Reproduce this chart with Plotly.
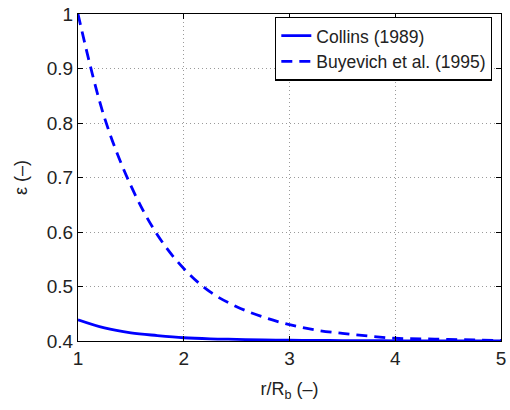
import plotly.graph_objects as go

x_vals = [1.0, 1.25, 1.5, 1.75, 2.0, 2.25, 2.5, 2.75, 3.0, 3.25, 3.5, 3.75, 4.0, 4.25, 4.5, 4.75, 5.0]
collins = [0.439, 0.424, 0.415, 0.410, 0.406, 0.404, 0.403, 0.402, 0.4015, 0.401, 0.4008, 0.4006, 0.4004, 0.4003, 0.4002, 0.4001, 0.4000]
buyevich = [1.0, 0.81, 0.685, 0.595, 0.533, 0.490, 0.463, 0.444, 0.430, 0.420, 0.414, 0.409, 0.405, 0.404, 0.403, 0.402, 0.401]

x_ticks = [1, 2, 3, 4, 5]
y_ticks = [0.4, 0.5, 0.6, 0.7, 0.8, 0.9, 1.0]
y_tick_text = ["0.4", "0.5", "0.6", "0.7", "0.8", "0.9", "1"]

fig = go.Figure()
fig.add_trace(go.Scatter(x=x_vals, y=collins, mode="lines", name="Collins (1989)",
                         line=dict(color="#0000ff", width=2.8, shape="spline")))
fig.add_trace(go.Scatter(x=x_vals, y=buyevich, mode="lines", name="Buyevich et al. (1995)",
                         line=dict(color="#0000ff", width=2.8, dash="11px,7px", shape="spline")))

font = "Liberation Sans, Arial, sans-serif"
axis_common = dict(showline=True, linecolor="black", linewidth=1.2, mirror="ticks",
                   ticks="inside", ticklen=5, tickcolor="black",
                   showgrid=True, gridcolor="#9a9a9a", griddash="1px,3px", gridwidth=1,
                   zeroline=False, ticklabeloverflow="allow",
                   tickfont=dict(family=font, size=19, color="#222222"))

fig.update_layout(
    width=510, height=410,
    margin=dict(l=78, r=4, t=11, b=69),
    paper_bgcolor="white", plot_bgcolor="white",
    font=dict(family=font, size=18, color="#222222"),
    xaxis=dict(range=[1, 5], tickvals=x_ticks,
               title=dict(text="r/R<sub>b</sub> (–)", font=dict(family=font, size=18), standoff=14),
               **axis_common),
    yaxis=dict(range=[0.4, 1.0], tickvals=y_ticks, ticktext=y_tick_text,
               title=dict(text="ε (–)", font=dict(family=font, size=18), standoff=14),
               **axis_common),
    legend=dict(x=0.979, y=0.992, xanchor="right", yanchor="top",
                bgcolor="white", bordercolor="black", borderwidth=1.2,
                font=dict(family=font, size=17.5, color="#222222"), tracegroupgap=0, itemwidth=30),
    showlegend=True,
)

fig.write_html("out.html")
